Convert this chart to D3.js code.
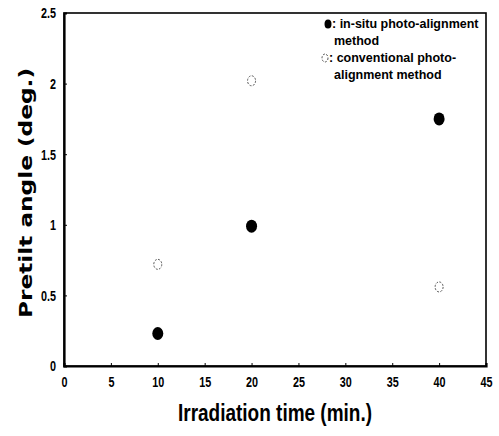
<!DOCTYPE html>
<html><head><meta charset="utf-8">
<script src="https://cdn.jsdelivr.net/npm/d3@7"></script>
<style>body{margin:0;background:#fff}svg{display:block}</style>
</head><body>
<script>
const xTicks = [0,5,10,15,20,25,30,35,40,45];
const yTicks = [0,0.5,1,1.5,2,2.5];
const yTickLabels = ["0","0.5","1","1.5","2","2.5"];
const inSituX = [10,20,40];
const inSituY = [0.23,0.99,1.75];
const convX = [10,20,40];
const convY = [0.72,2.02,0.56];
const legendLabels = [["in-situ photo-alignment","method"],["conventional photo-","alignment method"]];
const xTitle = "Irradiation time (min.)";
const yTitle = "Pretilt angle (deg.)";

const W=499,H=436;
const m={l:64,r:13,t:13,b:70};
const svg=d3.select("body").append("svg").attr("width",W).attr("height",H);
const x=d3.scaleLinear().domain([0,45]).range([m.l,W-m.r]);
const y=d3.scaleLinear().domain([0,2.5]).range([H-m.b,m.t]);
const tickFont='"Liberation Sans Narrow","Arial Narrow","Liberation Sans",sans-serif';

function condense(sel,f){
  sel.each(function(){const n=this;const L=n.getComputedTextLength();
    d3.select(n).attr("textLength",L*f).attr("lengthAdjust","spacingAndGlyphs");});
}

// frame
svg.append("rect").attr("x",x(0)).attr("y",y(2.5)).attr("width",x(45)-x(0)).attr("height",y(0)-y(2.5))
  .attr("fill","none").attr("stroke","#000").attr("stroke-width",1.6);

const xa=svg.append("g").attr("transform",`translate(0,${y(0)})`)
  .call(d3.axisBottom(x).tickValues(xTicks).tickSize(-3).tickPadding(10).tickFormat(d3.format("d")));
xa.select(".domain").attr("stroke-width",2.2);
xa.selectAll("text").attr("font-family",tickFont).attr("font-weight","bold").attr("font-size",15).attr("fill","#000");
condense(xa.selectAll("text"),0.72);

const ya=svg.append("g").attr("transform",`translate(${x(0)},0)`)
  .call(d3.axisLeft(y).tickValues(yTicks).tickSize(-3).tickPadding(8).tickFormat((d,i)=>yTickLabels[i]));
ya.select(".domain").attr("stroke-width",2.2);
ya.selectAll("text").attr("font-family",tickFont).attr("font-weight","bold").attr("font-size",15).attr("fill","#000");
condense(ya.selectAll("text"),0.72);

// points
svg.append("g").selectAll("ellipse").data(convX.map((d,i)=>[d,convY[i]])).join("ellipse")
  .attr("cx",d=>x(d[0])).attr("cy",d=>y(d[1])).attr("rx",4).attr("ry",5)
  .attr("fill","none").attr("stroke","#555").attr("stroke-width",1).attr("stroke-dasharray","2,1.5");
svg.append("g").selectAll("ellipse").data(inSituX.map((d,i)=>[d,inSituY[i]])).join("ellipse")
  .attr("cx",d=>x(d[0])).attr("cy",d=>y(d[1])).attr("rx",5.5).attr("ry",6.5).attr("fill","#000");

// legend
const lg=svg.append("g").attr("font-family",tickFont).attr("font-weight","bold").attr("font-size",12.5).attr("fill","#000");
lg.append("ellipse").attr("cx",328).attr("cy",24).attr("rx",3.5).attr("ry",4.5).attr("fill","#000");
lg.append("text").attr("x",332).attr("y",28).text(": "+legendLabels[0][0]);
lg.append("text").attr("x",334).attr("y",45).text(legendLabels[0][1]);
lg.append("ellipse").attr("cx",325).attr("cy",58).attr("rx",3).attr("ry",4).attr("fill","none").attr("stroke","#555").attr("stroke-dasharray","2,1.5");
lg.append("text").attr("x",329).attr("y",62).text(": "+legendLabels[1][0]);
lg.append("text").attr("x",334).attr("y",79).text(legendLabels[1][1]);

// titles
svg.append("text").attr("x",(x(0)+x(45))/2).attr("y",421).attr("text-anchor","middle")
  .attr("font-family",tickFont).attr("font-weight","bold").attr("font-size",23)
  .attr("textLength",194).attr("lengthAdjust","spacingAndGlyphs").text(xTitle);
svg.append("text").attr("transform","translate(32,193) rotate(-90)").attr("text-anchor","middle")
  .attr("font-family","'DejaVu Sans',sans-serif").attr("font-weight","bold").attr("font-size",18)
  .attr("textLength",250).attr("lengthAdjust","spacingAndGlyphs").text(yTitle);
</script>
</body></html>
